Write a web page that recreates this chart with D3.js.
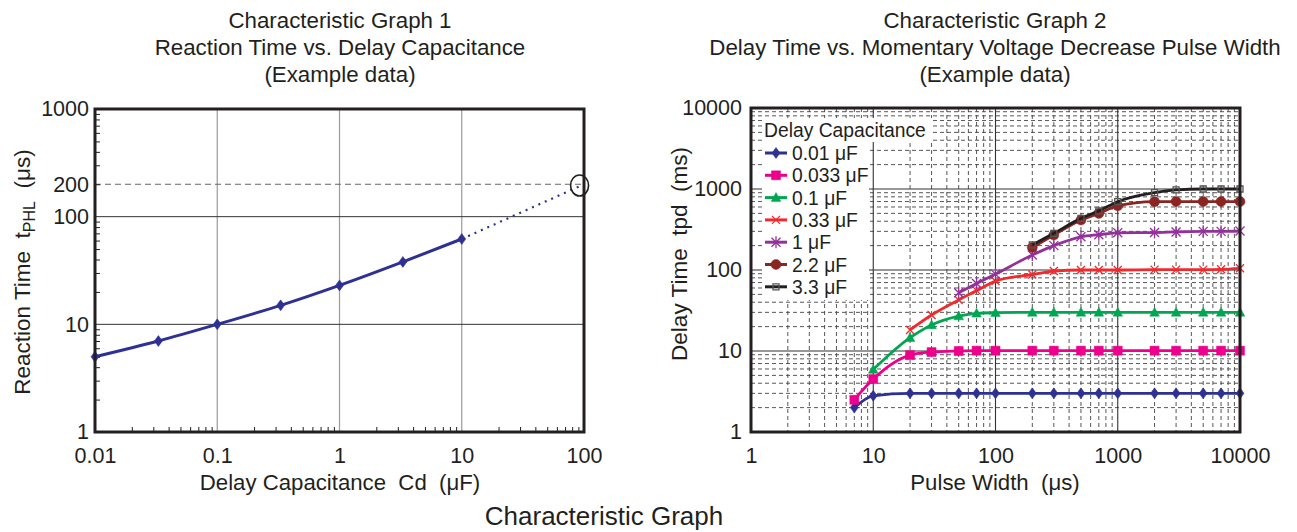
<!DOCTYPE html>
<html>
<head>
<meta charset="utf-8">
<script src="https://d3js.org/d3.v7.min.js"></script>
<style>
  body { margin: 0; background: #fff; }
  svg { display: block; font-family: "Liberation Sans", Arial, sans-serif; }
  text { fill: #231f20; white-space: pre; }
</style>
</head>
<body>
<svg id="chart" width="1297" height="532"></svg>
<script>
// ---- data: graph 1 (reaction time vs delay capacitance) ----
var capValues = [0.01, 0.033, 0.1, 0.33, 1, 3.3, 10];
var reactionTimes = [5, 7, 10, 15, 23, 38, 62];
var extrapCap = [10, 100];
var extrapTime = [62, 200];
var markCap = 92, markTime = 195;
var g1XTicks = [0.01, 0.1, 1, 10, 100];
var g1YTicks = [1, 10, 100, 200, 1000];

// ---- data: graph 2 (delay time vs pulse width) ----
var pulseWidths = [7, 10, 20, 30, 50, 70, 100, 200, 300, 500, 700, 1000, 2000, 3000, 5000, 7000, 10000];
var seriesNames = ['0.01 \u03bcF', '0.033 \u03bcF', '0.1 \u03bcF', '0.33 \u03bcF', '1 \u03bcF', '2.2 \u03bcF', '3.3 \u03bcF'];
var seriesStart = [0, 0, 1, 2, 4, 7, 7]; // index into pulseWidths where each curve begins
var d001 = [2.0, 2.8, 3.0, 3.0, 3.0, 3.0, 3.0, 3.0, 3.0, 3.0, 3.0, 3.0, 3.0, 3.0, 3.0, 3.0, 3.0];
var d0033 = [2.5, 4.5, 8.9, 9.7, 10, 10.1, 10.1, 10.1, 10.1, 10.1, 10.1, 10.1, 10.1, 10.1, 10.1, 10.1, 10.1];
var d01 = [5.9, 14.6, 21, 27, 29.2, 29.7, 30, 30, 30, 30, 30, 30, 30, 30, 30, 30];
var d033 = [18.2, 27.8, 42.7, 55.6, 73, 88, 97, 100, 100, 100, 101, 101, 101, 102, 105];
var d1 = [52.5, 68, 89, 153, 200, 257, 273, 288, 290, 295, 300, 300, 303];
var d22 = [190, 270, 414, 500, 620, 697, 700, 700, 700, 700];
var d33 = [204, 284, 434, 537, 697, 900, 973, 1000, 1000, 1000];
var seriesValues = [d001, d0033, d01, d033, d1, d22, d33];
var seriesColors = ['#2e3192', '#ec008c', '#00a651', '#ef2b2d', '#93319b', '#8b2522', '#231f20'];
var seriesMarkers = ['diamond', 'square', 'triangle', 'cross', 'star', 'circle', 'box'];
var g2XTicks = [1, 10, 100, 1000, 10000];
var g2YTicks = [1, 10, 100, 1000, 10000];

var svg = d3.select('#chart');
var ink = '#231f20';

// minor tick values (2..9 per decade) between lo and hi
function minorValues(lo, hi) {
    var out = [];
    for (var dec = lo; dec < hi; dec *= 10) {
        for (var m = 2; m <= 9; m++) out.push(+(dec * m).toPrecision(3));
    }
    return out;
}

function markerPath(type) {
    switch (type) {
        case 'diamond': return 'M0,-5.5L4,0L0,5.5L-4,0Z';
        case 'square': return 'M-4.5,-4.5H4.5V4.5H-4.5Z';
        case 'triangle': return 'M0,-5L4.8,3.8H-4.8Z';
        case 'cross': return 'M-4,-4L4,4M-4,4L4,-4';
        case 'star': return 'M-4.5,-4.5L4.5,4.5M-4.5,4.5L4.5,-4.5M0,-6V6';
        case 'circle': return 'M-5,0A5,5 0 1,0 5,0A5,5 0 1,0 -5,0Z';
        case 'box': return 'M-3,-3H3V3H-3Z';
    }
}
function drawMarker(g, type, color, x, y) {
    var open = (type === 'cross' || type === 'star' || type === 'box');
    g.append('path')
        .attr('d', markerPath(type))
        .attr('transform', 'translate(' + [x, y] + ')')
        .attr('fill', open ? 'none' : color)
        .attr('stroke', type === 'box' ? '#555' : color)
        .attr('stroke-width', open ? 1.3 : 0.5);
}

/* ================= Graph 1 ================= */
var x1 = d3.scaleLog().domain([0.01, 100]).range([95, 584]);
var y1 = d3.scaleLog().domain([1, 1000]).range([432, 109]);
var g1 = svg.append('g');

// grid
g1.selectAll('.vgrid').data([0.1, 1, 10]).enter().append('line')
    .attr('x1', function(d){ return x1(d); }).attr('x2', function(d){ return x1(d); })
    .attr('y1', y1(1000)).attr('y2', y1(1))
    .attr('stroke', '#9a9a9a').attr('stroke-width', 1.2);
g1.selectAll('.hgrid').data([10, 100]).enter().append('line')
    .attr('x1', x1(0.01)).attr('x2', x1(100))
    .attr('y1', function(d){ return y1(d); }).attr('y2', function(d){ return y1(d); })
    .attr('stroke', '#333').attr('stroke-width', 1);
g1.append('line')
    .attr('x1', x1(0.01)).attr('x2', x1(100))
    .attr('y1', y1(200)).attr('y2', y1(200))
    .attr('stroke', '#666').attr('stroke-width', 1).attr('stroke-dasharray', '6,4');

// minor ticks (inside)
g1.append('g').attr('transform', 'translate(0,432)')
    .call(d3.axisBottom(x1).tickValues(minorValues(0.01, 100)).tickSize(-5).tickFormat(''))
    .call(function(a){ a.select('.domain').remove(); a.selectAll('line').attr('stroke', ink); });
g1.append('g').attr('transform', 'translate(95,0)')
    .call(d3.axisLeft(y1).tickValues(minorValues(1, 1000)).tickSize(-5).tickFormat(''))
    .call(function(a){ a.select('.domain').remove(); a.selectAll('line').attr('stroke', ink); });

// tick labels
g1.append('g').attr('transform', 'translate(0,432)')
    .call(d3.axisBottom(x1).tickValues(g1XTicks).tickSize(0).tickPadding(16).tickFormat(function(d){ return String(d); }))
    .call(function(a){ a.select('.domain').remove(); a.selectAll('text').attr('font-size', 21.5).attr('fill', ink).attr('font-family', null); });
g1.append('g').attr('transform', 'translate(95,0)')
    .call(d3.axisLeft(y1).tickValues(g1YTicks).tickSize(0).tickPadding(6).tickFormat(function(d){ return String(d); }))
    .call(function(a){ a.select('.domain').remove(); a.selectAll('text').attr('font-size', 21.5).attr('fill', ink).attr('font-family', null); });

// extrapolation (dotted) and main line
var line1 = d3.line().x(function(d){ return x1(d[0]); }).y(function(d){ return y1(d[1]); });
g1.append('path')
    .attr('d', line1(d3.zip(extrapCap, extrapTime)))
    .attr('fill', 'none').attr('stroke', '#2e3192').attr('stroke-width', 2.2).attr('stroke-dasharray', '2,5');
g1.append('path')
    .attr('d', line1.curve(d3.curveMonotoneX)(d3.zip(capValues, reactionTimes)))
    .attr('fill', 'none').attr('stroke', '#2e3192').attr('stroke-width', 3);
capValues.forEach(function(c, i){ drawMarker(g1, 'diamond', '#2e3192', x1(c), y1(reactionTimes[i])); });
g1.append('ellipse')
    .attr('cx', x1(markCap)).attr('cy', y1(markTime)).attr('rx', 9).attr('ry', 10.5)
    .attr('fill', 'none').attr('stroke', ink).attr('stroke-width', 1.6);

// frame
g1.append('rect').attr('x', 95).attr('y', 109).attr('width', 489).attr('height', 323)
    .attr('fill', 'none').attr('stroke', ink).attr('stroke-width', 3);

// titles
var title1 = ['Characteristic Graph 1', 'Reaction Time vs. Delay Capacitance', '(Example data)'];
title1.forEach(function(t, i){
    svg.append('text').attr('x', 340).attr('y', 28 + i * 27).attr('text-anchor', 'middle')
        .attr('font-size', 22.3).text(t);
});
svg.append('text').attr('x', 340).attr('y', 490).attr('text-anchor', 'middle').attr('font-size', 22.2)
    .text('Delay Capacitance  Cd  (\u03bcF)');
var yl1 = svg.append('text').attr('transform', 'translate(30,272) rotate(-90)')
    .attr('text-anchor', 'middle').attr('font-size', 22.5);
yl1.append('tspan').text('Reaction Time  t');
yl1.append('tspan').attr('font-size', 16).attr('dy', 5).text('PHL');
yl1.append('tspan').attr('dy', -5).text('  (\u03bcs)');

/* ================= Graph 2 ================= */
var x2 = d3.scaleLog().domain([1, 10000]).range([751, 1240]);
var y2 = d3.scaleLog().domain([1, 10000]).range([432, 108]);
var g2 = svg.append('g');

// dashed minor grid
g2.selectAll('.mvx').data(minorValues(1, 10000)).enter().append('line')
    .attr('x1', function(d){ return x2(d); }).attr('x2', function(d){ return x2(d); })
    .attr('y1', 108).attr('y2', 432)
    .attr('stroke', '#444').attr('stroke-width', 0.9).attr('stroke-dasharray', '4,3');
g2.selectAll('.mvy').data(minorValues(1, 10000)).enter().append('line')
    .attr('x1', 751).attr('x2', 1240)
    .attr('y1', function(d){ return y2(d); }).attr('y2', function(d){ return y2(d); })
    .attr('stroke', '#444').attr('stroke-width', 0.9).attr('stroke-dasharray', '4,3');
// solid decade grid
g2.selectAll('.jvx').data([10, 100, 1000]).enter().append('line')
    .attr('x1', function(d){ return x2(d); }).attr('x2', function(d){ return x2(d); })
    .attr('y1', 108).attr('y2', 432).attr('stroke', '#333').attr('stroke-width', 1.1);
g2.selectAll('.jvy').data([10, 100, 1000]).enter().append('line')
    .attr('x1', 751).attr('x2', 1240)
    .attr('y1', function(d){ return y2(d); }).attr('y2', function(d){ return y2(d); })
    .attr('stroke', '#333').attr('stroke-width', 1.1);

// tick labels
g2.append('g').attr('transform', 'translate(0,432)')
    .call(d3.axisBottom(x2).tickValues(g2XTicks).tickSize(0).tickPadding(16).tickFormat(function(d){ return String(d); }))
    .call(function(a){ a.select('.domain').remove(); a.selectAll('text').attr('font-size', 21.5).attr('fill', ink).attr('font-family', null); });
g2.append('g').attr('transform', 'translate(751,0)')
    .call(d3.axisLeft(y2).tickValues(g2YTicks).tickSize(0).tickPadding(9).tickFormat(function(d){ return String(d); }))
    .call(function(a){ a.select('.domain').remove(); a.selectAll('text').attr('font-size', 21.5).attr('fill', ink).attr('font-family', null); });

// legend background
g2.append('rect').attr('x', 762).attr('y', 118).attr('width', 171).attr('height', 24).attr('fill', '#fff');
g2.append('rect').attr('x', 762).attr('y', 141).attr('width', 107).attr('height', 159).attr('fill', '#fff');
g2.append('text').attr('x', 764).attr('y', 137).attr('font-size', 19.3).text('Delay Capacitance');

// series
var line2 = d3.line().curve(d3.curveMonotoneX)
    .x(function(d){ return x2(d[0]); }).y(function(d){ return y2(d[1]); });
seriesValues.forEach(function(vals, s){
    var xs = pulseWidths.slice(seriesStart[s], seriesStart[s] + vals.length);
    var pts = d3.zip(xs, vals);
    var sg = g2.append('g');
    sg.append('path').attr('d', line2(pts))
        .attr('fill', 'none').attr('stroke', seriesColors[s]).attr('stroke-width', 2.8);
    pts.forEach(function(p){ drawMarker(sg, seriesMarkers[s], seriesColors[s], x2(p[0]), y2(p[1])); });

    // legend entry
    var ly = 153 + s * 22.3;
    var lg = g2.append('g');
    lg.append('line').attr('x1', 765).attr('x2', 787).attr('y1', ly).attr('y2', ly)
        .attr('stroke', seriesColors[s]).attr('stroke-width', 3);
    drawMarker(lg, seriesMarkers[s], seriesColors[s], 776, ly);
    lg.append('text').attr('x', 792).attr('y', ly + 7).attr('font-size', 19.3).text(seriesNames[s]);
});

// frame
g2.append('rect').attr('x', 751).attr('y', 108).attr('width', 489).attr('height', 324)
    .attr('fill', 'none').attr('stroke', ink).attr('stroke-width', 3);

var title2 = ['Characteristic Graph 2', 'Delay Time vs. Momentary Voltage Decrease Pulse Width', '(Example data)'];
title2.forEach(function(t, i){
    svg.append('text').attr('x', 995).attr('y', 28 + i * 27).attr('text-anchor', 'middle')
        .attr('font-size', 22.3).text(t);
});
svg.append('text').attr('x', 995).attr('y', 490).attr('text-anchor', 'middle').attr('font-size', 22.2)
    .text('Pulse Width  (\u03bcs)');
svg.append('text').attr('transform', 'translate(687,254) rotate(-90)')
    .attr('text-anchor', 'middle').attr('font-size', 22.5).text('Delay Time  tpd  (ms)');

// overall caption
svg.append('text').attr('x', 604).attr('y', 525).attr('text-anchor', 'middle').attr('font-size', 26)
    .text('Characteristic Graph');
</script>
</body>
</html>
